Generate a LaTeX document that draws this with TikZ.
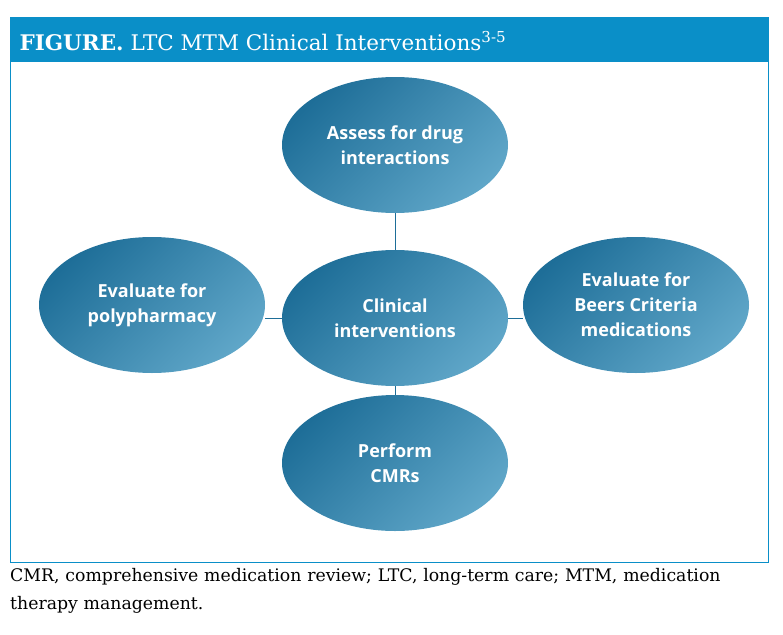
\documentclass[tikz,border=0pt]{standalone}
\usepackage{fontspec}
\setmainfont{DejaVu Serif}
\newfontfamily\bubblefont{Open Sans}
\usetikzlibrary{shapes.geometric}
\definecolor{headblue}{HTML}{0A8FC8}
\definecolor{bubbledark}{HTML}{1E6E98}
\definecolor{bubblelight}{HTML}{5FA6C8}
\tikzset{
  bubble/.style={ellipse, minimum width=226pt, minimum height=136pt,
    inner sep=0pt, left color=bubbledark, right color=bubblelight,
    shading angle=45, text=white, align=center,
    font=\bubblefont\bfseries\fontsize{18}{25}\selectfont},
  link/.style={draw=bubbledark, line width=0.8pt}
}
\begin{document}
\begin{tikzpicture}[x=1pt,y=-1pt]
    \useasboundingbox (0,0) rectangle (783,634);
    % frame and header
    \draw[headblue, line width=0.8pt] (10,17) rectangle (768,562);
    \fill[headblue] (10,17) rectangle (768,62);
    \node[anchor=west, text=white, font=\fontsize{21.5}{24}\selectfont] (title) at (16,41)
      {\textbf{FIGURE.} LTC MTM Clinical Interventions\textsuperscript{3-5}};
    % bubbles
    \node[bubble] (center) at (395,318) {Clinical\\interventions};
    \node[bubble] (assess) at (395,145) {Assess for drug\\interactions};
    \node[bubble] (poly) at (152,305) {Evaluate for\\polypharmacy};
    \node[bubble] (beers) at (636,305) {Evaluate for\\Beers Criteria\\medications};
    \node[bubble] (cmr) at (395,463) {Perform\\CMRs};
    % links
    \draw[link] (center) -- (assess);
    \draw[link] (center) -- (cmr);
    \draw[link] (center.west) -- (poly.east |- center.west);
    \draw[link] (center.east) -- (beers.west |- center.east);
    % footnote
    \node[anchor=north west, align=left, text width=770pt, inner sep=0pt,
      font=\fontsize{17.3}{28}\selectfont] (note) at (10,568)
      {CMR, comprehensive medication review; LTC, long-term care; MTM, medication\\therapy management.};
\end{tikzpicture}
\end{document}
